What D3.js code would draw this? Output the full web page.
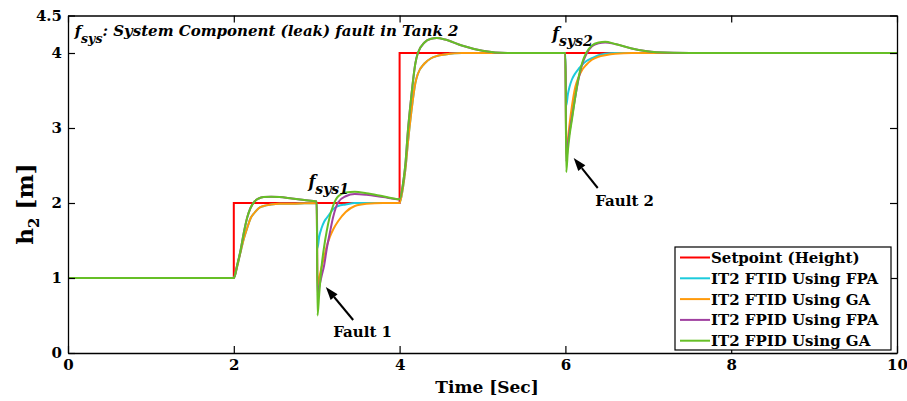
<!DOCTYPE html>
<html>
<head>
<meta charset="utf-8">
<script src="https://cdn.jsdelivr.net/npm/d3@7"></script>
<style>
  body { margin: 0; background: #fff; }
  svg { display: block; font-family: "DejaVu Serif", serif; font-weight: bold; }
</style>
</head>
<body>
<div id="chart"></div>
<script>
// time grid (sec) shared by the four controller responses
const timeSec = [
  0, 2, 2.04, 2.08, 2.12, 2.16, 2.2, 2.25, 2.3, 2.36, 2.45, 2.55, 2.7, 2.85, 3.0,
  3.01, 3.03, 3.06, 3.09, 3.12, 3.16, 3.2, 3.26, 3.35, 3.46, 3.6, 3.8, 4.0,
  4.04, 4.07, 4.1, 4.14, 4.19, 4.22, 4.3, 4.38, 4.45, 4.55, 4.75, 5.0, 5.3, 6.0,
  6.01, 6.03, 6.05, 6.08, 6.12, 6.16, 6.2, 6.25, 6.32, 6.4, 6.48, 6.6, 6.8, 7.1, 7.5, 10
];

const setpointTime = [0, 2, 2, 4, 4, 10];
const setpointHeight = [1, 1, 2, 2, 4, 4];

const ftidFpa = [
  1, 1, 1.15, 1.34, 1.52, 1.66, 1.79, 1.87, 1.93, 1.96, 1.98, 1.99, 1.99, 1.995, 2.0,
  1.4, 1.55, 1.67, 1.75, 1.8, 1.86, 1.92, 1.96, 1.98, 2.0, 2.0, 2.0, 2.0,
  2.2, 2.45, 2.8, 3.2, 3.6, 3.72, 3.86, 3.93, 3.96, 3.98, 4.0, 4.0, 4.0, 4.0,
  3.3, 3.45, 3.55, 3.65, 3.73, 3.79, 3.84, 3.89, 3.93, 3.97, 3.99, 4.0, 4.0, 4.0, 4.0, 4.0
];

const ftidGa = [
  1, 1, 1.15, 1.34, 1.52, 1.66, 1.79, 1.87, 1.93, 1.96, 1.98, 1.99, 1.99, 1.995, 2.0,
  0.9, 1.0, 1.15, 1.28, 1.42, 1.55, 1.65, 1.76, 1.88, 1.96, 1.99, 2.0, 2.0,
  2.2, 2.45, 2.8, 3.2, 3.6, 3.72, 3.86, 3.93, 3.96, 3.98, 4.0, 4.0, 4.0, 4.0,
  2.65, 2.85, 3.05, 3.3, 3.55, 3.68, 3.77, 3.84, 3.91, 3.95, 3.97, 3.99, 4.0, 4.0, 4.0, 4.0
];

const fpidFpa = [
  1, 1, 1.17, 1.36, 1.6, 1.8, 1.93, 2.02, 2.06, 2.08, 2.085, 2.08, 2.06, 2.04, 2.02,
  0.77, 0.88, 1.03, 1.17, 1.38, 1.61, 1.82, 2.01, 2.09, 2.12, 2.11, 2.08, 2.05,
  2.25, 2.52, 2.96, 3.41, 3.86, 4.0, 4.14, 4.19, 4.2, 4.18, 4.1, 4.03, 4.0, 4.0,
  2.55, 2.78, 2.95, 3.15, 3.42, 3.66, 3.84, 3.98, 4.09, 4.13, 4.14, 4.12, 4.06, 4.01, 4.0, 4.0
];

const fpidGa = [
  1, 1, 1.17, 1.36, 1.6, 1.8, 1.93, 2.02, 2.06, 2.08, 2.085, 2.08, 2.06, 2.04, 2.02,
  0.5, 0.78, 1.17, 1.42, 1.62, 1.83, 1.97, 2.09, 2.14, 2.15, 2.13, 2.09, 2.05,
  2.25, 2.52, 2.96, 3.41, 3.86, 4.0, 4.14, 4.19, 4.2, 4.18, 4.1, 4.03, 4.0, 4.0,
  2.41, 2.7, 2.9, 3.12, 3.42, 3.68, 3.86, 4.0, 4.1, 4.14, 4.15, 4.12, 4.06, 4.01, 4.0, 4.0
];

const seriesNames = ["Setpoint (Height)", "IT2 FTID Using FPA", "IT2 FTID Using GA",
  "IT2 FPID Using FPA", "IT2 FPID Using GA"];
const seriesColors = ["#ff0000", "#1ccbdc", "#ff9a0a", "#a040a0", "#66bf26"];

const xTicks = [0, 2, 4, 6, 8, 10];
const yTicks = [0, 1, 2, 3, 4, 4.5];

// layout
const W = 907, H = 401;
const margin = { top: 15.5, right: 10, bottom: 48, left: 68 };

const svg = d3.select("#chart").append("svg")
  .attr("width", W)
  .attr("height", H);

const x = d3.scaleLinear().domain([0, 10]).range([margin.left, W - margin.right]);
const y = d3.scaleLinear().domain([0, 4.5]).range([H - margin.bottom, margin.top]);

// series lines
const stepLine = d3.line()
  .x(d => x(d[0]))
  .y(d => y(d[1]));

const smoothLine = d3.line()
  .x(d => x(d[0]))
  .y(d => y(d[1]))
  .curve(d3.curveMonotoneX);

const responses = [ftidFpa, ftidGa, fpidFpa, fpidGa];

svg.append("path")
  .datum(setpointTime.map((t, i) => [t, setpointHeight[i]]))
  .attr("fill", "none")
  .attr("stroke", seriesColors[0])
  .attr("stroke-width", 2)
  .attr("d", stepLine);

responses.forEach(function (vals, k) {
  svg.append("path")
    .datum(timeSec.map((t, i) => [t, vals[i]]))
    .attr("fill", "none")
    .attr("stroke", seriesColors[k + 1])
    .attr("stroke-width", 2)
    .attr("d", smoothLine);
});

// axes, ticks inside on all four sides
function styleAxis(g) {
  g.attr("font-family", null).attr("font-size", null);
  g.select(".domain").attr("stroke", "#000").attr("stroke-width", 1.3);
  g.selectAll(".tick line").attr("stroke", "#000").attr("stroke-width", 1.2);
  g.selectAll(".tick text").attr("fill", "#000").style("font-size", "15px");
}

const fmt = d => String(d);

svg.append("g")
  .attr("transform", `translate(0,${y(0)})`)
  .call(d3.axisBottom(x).tickValues(xTicks).tickFormat(fmt).tickSize(-7).tickSizeOuter(0).tickPadding(6))
  .call(styleAxis);

svg.append("g")
  .attr("transform", `translate(0,${y(4.5)})`)
  .call(d3.axisTop(x).tickValues(xTicks).tickSize(-7).tickSizeOuter(0).tickFormat(""))
  .call(styleAxis);

svg.append("g")
  .attr("transform", `translate(${x(0)},0)`)
  .call(d3.axisLeft(y).tickValues(yTicks).tickFormat(fmt).tickSize(-7).tickSizeOuter(0).tickPadding(6))
  .call(styleAxis);

svg.append("g")
  .attr("transform", `translate(${x(10)},0)`)
  .call(d3.axisRight(y).tickValues(yTicks).tickSize(-7).tickSizeOuter(0).tickFormat(""))
  .call(styleAxis);

// axis titles
svg.append("text")
  .attr("x", 487)
  .attr("y", 393)
  .attr("text-anchor", "middle")
  .style("font-size", "17px")
  .text("Time [Sec]");

const yTitle = svg.append("text")
  .attr("transform", "translate(33,204) rotate(-90)")
  .attr("text-anchor", "middle")
  .style("font-size", "23px");
yTitle.append("tspan").text("h");
yTitle.append("tspan").attr("dy", 6).style("font-size", "15px").text("2");
yTitle.append("tspan").attr("dy", -6).text(" [m]");

// title and fault labels with subscripts
function subLabel(t, v, main, sub, rest, size, subSize) {
  const txt = svg.append("text")
    .attr("x", x(t))
    .attr("y", y(v))
    .style("font-style", "italic")
    .style("font-size", size + "px");
  txt.append("tspan").text(main);
  txt.append("tspan").attr("dy", 7).style("font-size", subSize + "px").text(sub);
  if (rest) txt.append("tspan").attr("dy", -7).text(rest);
}

subLabel(0.08, 4.23, "f", "sys", ": System Component (leak) fault in Tank 2", 15, 12.5);
subLabel(2.9, 2.21, "f", "sys1", null, 16, 14);
subLabel(5.84, 4.19, "f", "sys2", null, 16, 14);

// fault arrows
function arrow(t0, v0, t1, v1) {
  const x0 = x(t0), y0 = y(v0), x1 = x(t1), y1 = y(v1);
  const a = Math.atan2(y1 - y0, x1 - x0);
  const len = 13, half = 4.5;
  const bx = x1 - len * Math.cos(a), by = y1 - len * Math.sin(a);
  svg.append("line")
    .attr("x1", x0).attr("y1", y0).attr("x2", bx).attr("y2", by)
    .attr("stroke", "#000").attr("stroke-width", 2);
  svg.append("path")
    .attr("d", d3.line()([
      [x1, y1],
      [bx + half * Math.sin(a), by - half * Math.cos(a)],
      [bx - half * Math.sin(a), by + half * Math.cos(a)]
    ]) + "Z")
    .attr("fill", "#000");
}

arrow(3.44, 0.44, 3.11, 0.88);
arrow(6.39, 2.2, 6.1, 2.6);

svg.append("text").attr("x", x(3.2)).attr("y", y(0.21))
  .style("font-size", "15px").text("Fault 1");
svg.append("text").attr("x", x(6.36)).attr("y", y(1.96))
  .style("font-size", "15px").text("Fault 2");

// legend
const legend = svg.append("g").attr("transform", "translate(675,247)");
legend.append("rect")
  .attr("width", 216).attr("height", 103)
  .attr("fill", "#fff").attr("stroke", "#000").attr("stroke-width", 1.2);

seriesNames.forEach(function (name, i) {
  const row = legend.append("g").attr("transform", `translate(0,${10.5 + i * 20.8})`);
  row.append("line")
    .attr("x1", 5).attr("x2", 35)
    .attr("stroke", seriesColors[i]).attr("stroke-width", 2);
  row.append("text")
    .attr("x", 36).attr("dy", "0.36em")
    .style("font-size", "15px")
    .text(name);
});
</script>
</body>
</html>
